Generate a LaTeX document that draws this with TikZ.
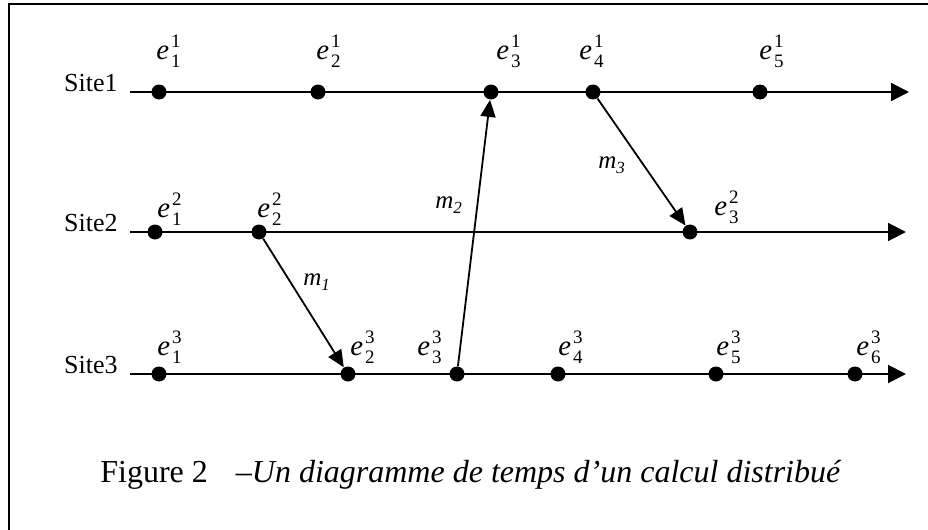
\documentclass[tikz,border=0pt]{standalone}
\usepackage{fontspec}
\setmainfont{Liberation Serif}
\usetikzlibrary{arrows.meta}
\tikzset{
  evt/.style={circle, fill, inner sep=0pt, minimum size=7.5pt},
  lbl/.style={anchor=base west, inner sep=0pt, font=\fontsize{14.4}{16}\selectfont},
  mlbl/.style={anchor=base west, inner sep=0pt, font=\fontsize{12.5}{14}\selectfont},
  site/.style={anchor=base east, inner sep=0pt, font=\fontsize{13}{15}\selectfont},
  timeline/.style={line width=1pt, -{Triangle[length=9pt,width=9pt]}},
  msg/.style={line width=0.9pt, -{Triangle[length=8.5pt,width=7.5pt]}},
}
% event label: e with index i below and site j above
\newcommand{\ev}[2]{\textit{e}\kern1pt\makebox[0pt][l]{\raisebox{6pt}{\fontsize{9.5}{10}\selectfont #2}}\raisebox{-4pt}{\fontsize{9.5}{10}\selectfont #1}}
\newcommand{\msgname}[1]{\textit{m}\raisebox{-2.5pt}{\fontsize{8.5}{9}\selectfont\itshape #1}}
\begin{document}
\begin{tikzpicture}[x=0.5pt,y=-0.5pt]
\useasboundingbox (0,0) rectangle (928,530);
\draw[line width=1pt](9,530)--(9,4)--(928,4);

% sites
\node[site] (site1) at (118,91){Site1};
\node[site] (site2) at (118,231){Site2};
\node[site] (site3) at (118,373){Site3};
\coordinate (s1) at (130,92);
\coordinate (s2) at (130,232);
\coordinate (s3) at (130,374);
\coordinate (t1) at (909,92);
\coordinate (t2) at (906,232);
\coordinate (t3) at (906,374);
\draw[timeline](s1)--(t1);
\draw[timeline](s2)--(t2);
\draw[timeline](s3)--(t3);

% events
\node[evt] (e11) at (159,92){};
\node[evt] (e21) at (318,92){};
\node[evt] (e31) at (491,92){};
\node[evt] (e41) at (593,92){};
\node[evt] (e51) at (760,92){};
\node[evt] (e12) at (155,232){};
\node[evt] (e22) at (259,232){};
\node[evt] (e32) at (690,232){};
\node[evt] (e13) at (159,374){};
\node[evt] (e23) at (348,374){};
\node[evt] (e33) at (457,374){};
\node[evt] (e43) at (558,374){};
\node[evt] (e53) at (716,374){};
\node[evt] (e63) at (855,374){};

\node[lbl] (l11) at (156,60){\ev{1}{1}};
\node[lbl] (l21) at (316,60){\ev{2}{1}};
\node[lbl] (l31) at (496,60){\ev{3}{1}};
\node[lbl] (l41) at (579,60){\ev{4}{1}};
\node[lbl] (l51) at (759,60){\ev{5}{1}};
\node[lbl] (l12) at (157,217){\ev{1}{2}};
\node[lbl] (l22) at (257,217){\ev{2}{2}};
\node[lbl] (l32) at (714,215){\ev{3}{2}};
\node[lbl] (l13) at (157,355){\ev{1}{3}};
\node[lbl] (l23) at (350,355){\ev{2}{3}};
\node[lbl] (l33) at (417,355){\ev{3}{3}};
\node[lbl] (l43) at (558,355){\ev{4}{3}};
\node[lbl] (l53) at (716,355){\ev{5}{3}};
\node[lbl] (l63) at (856,355){\ev{6}{3}};

% messages
\draw[msg](e22)--(e23);
\draw[msg](e33)--(e31);
\draw[msg](e41)--(e32);
\node[mlbl] (m1) at (303,285){\msgname{1}};
\node[mlbl] (m2) at (435,208){\msgname{2}};
\node[mlbl] (m3) at (598,168){\msgname{3}};

\node[anchor=base west, inner sep=0pt, font=\fontsize{16}{18}\selectfont] (caption) at (100,482){Figure 2\hspace{14pt}\textit{–Un diagramme de temps d’un calcul distribué}};
\end{tikzpicture}
\end{document}
